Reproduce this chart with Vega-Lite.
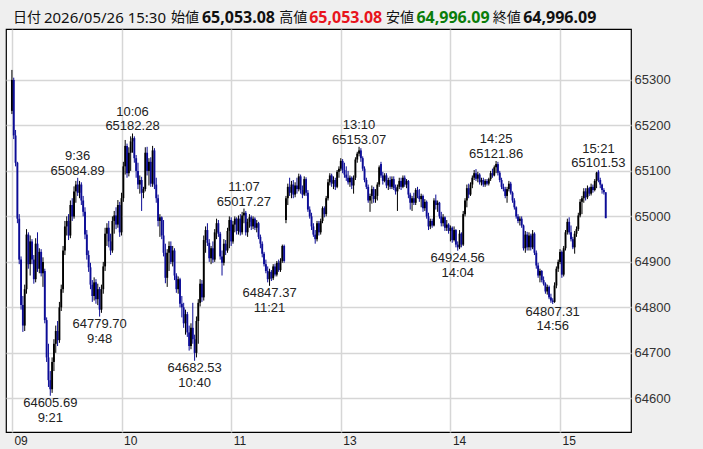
{
"$schema": "https://vega.github.io/schema/vega-lite/v6.json",
"width": 625, "height": 403,
"autosize": "none",
"padding": {"left": 6, "top": 29, "right": 72, "bottom": 17},
"background": "#efefef",
"config": {"view": {"fill": "#ffffff", "stroke": "#000000", "strokeWidth": 1.2}, "font": "Noto Sans"},
"datasets": {
"k": [
{"i":0,"o":65232,"h":65322,"l":65225,"c":65300},
{"i":1,"o":65300,"h":65305,"l":65170,"c":65178},
{"i":2,"o":65178,"h":65190,"l":65110,"c":65118},
{"i":3,"o":65118,"h":65120,"l":64985,"c":64995},
{"i":4,"o":64995,"h":65005,"l":64895,"c":64905},
{"i":5,"o":64905,"h":64912,"l":64795,"c":64805},
{"i":6,"o":64805,"h":64825,"l":64746,"c":64760},
{"i":7,"o":64760,"h":64850,"l":64748,"c":64840},
{"i":8,"o":64840,"h":64972,"l":64830,"c":64960},
{"i":9,"o":64960,"h":64965,"l":64885,"c":64895},
{"i":10,"o":64895,"h":64958,"l":64870,"c":64945},
{"i":11,"o":64945,"h":64950,"l":64895,"c":64905},
{"i":12,"o":64905,"h":64915,"l":64852,"c":64862},
{"i":13,"o":64862,"h":64952,"l":64855,"c":64940},
{"i":14,"o":64940,"h":64965,"l":64878,"c":64885},
{"i":15,"o":64885,"h":64930,"l":64875,"c":64922},
{"i":16,"o":64922,"h":64928,"l":64868,"c":64875},
{"i":17,"o":64875,"h":64910,"l":64845,"c":64900},
{"i":18,"o":64880,"h":64885,"l":64765,"c":64772},
{"i":19,"o":64772,"h":64778,"l":64680,"c":64690},
{"i":20,"o":64690,"h":64720,"l":64625,"c":64640},
{"i":21,"o":64640,"h":64660,"l":64605.69,"c":64620},
{"i":22,"o":64620,"h":64690,"l":64612,"c":64680},
{"i":23,"o":64680,"h":64730,"l":64660,"c":64720},
{"i":24,"o":64720,"h":64760,"l":64700,"c":64748},
{"i":25,"o":64748,"h":64770,"l":64715,"c":64728},
{"i":26,"o":64728,"h":64812,"l":64722,"c":64800},
{"i":27,"o":64800,"h":64850,"l":64792,"c":64840},
{"i":28,"o":64840,"h":64935,"l":64832,"c":64925},
{"i":29,"o":64925,"h":64990,"l":64915,"c":64978},
{"i":30,"o":64978,"h":65000,"l":64958,"c":64990},
{"i":31,"o":64990,"h":65005,"l":64948,"c":64958},
{"i":32,"o":64958,"h":65035,"l":64952,"c":65025},
{"i":33,"o":65025,"h":65040,"l":64990,"c":65000},
{"i":34,"o":65000,"h":65066,"l":64995,"c":65055},
{"i":35,"o":65055,"h":65078,"l":65030,"c":65070},
{"i":36,"o":65070,"h":65084.89,"l":65045,"c":65052},
{"i":37,"o":65052,"h":65078,"l":65040,"c":65070},
{"i":38,"o":65070,"h":65075,"l":65025,"c":65035},
{"i":39,"o":65035,"h":65045,"l":65000,"c":65010},
{"i":40,"o":65010,"h":65020,"l":64950,"c":64960},
{"i":41,"o":64960,"h":64970,"l":64905,"c":64915},
{"i":42,"o":64915,"h":64925,"l":64878,"c":64888},
{"i":43,"o":64888,"h":64898,"l":64840,"c":64850},
{"i":44,"o":64850,"h":64860,"l":64812,"c":64825},
{"i":45,"o":64825,"h":64866,"l":64815,"c":64855},
{"i":46,"o":64855,"h":64862,"l":64808,"c":64818},
{"i":47,"o":64818,"h":64852,"l":64805,"c":64840},
{"i":48,"o":64840,"h":64845,"l":64779.7,"c":64795},
{"i":49,"o":64795,"h":64850,"l":64788,"c":64840},
{"i":50,"o":64840,"h":64900,"l":64830,"c":64890},
{"i":51,"o":64890,"h":64975,"l":64880,"c":64962},
{"i":52,"o":64962,"h":64985,"l":64935,"c":64975},
{"i":53,"o":64975,"h":64990,"l":64932,"c":64945},
{"i":54,"o":64945,"h":64962,"l":64915,"c":64925},
{"i":55,"o":64925,"h":65000,"l":64920,"c":64990},
{"i":56,"o":64990,"h":65012,"l":64962,"c":65002},
{"i":57,"o":65002,"h":65020,"l":64972,"c":64982},
{"i":58,"o":64982,"h":65036,"l":64975,"c":65025},
{"i":59,"o":65025,"h":65032,"l":64955,"c":64965},
{"i":60,"o":64965,"h":65052,"l":64958,"c":65040},
{"i":61,"o":65040,"h":65120,"l":65032,"c":65110},
{"i":62,"o":65110,"h":65168,"l":65092,"c":65155},
{"i":63,"o":65155,"h":65160,"l":65085,"c":65095},
{"i":64,"o":65095,"h":65152,"l":65088,"c":65140},
{"i":65,"o":65140,"h":65176,"l":65100,"c":65165},
{"i":66,"o":65165,"h":65182.28,"l":65140,"c":65172},
{"i":67,"o":65172,"h":65176,"l":65118,"c":65128},
{"i":68,"o":65128,"h":65135,"l":65085,"c":65100},
{"i":69,"o":65100,"h":65118,"l":65060,"c":65070},
{"i":70,"o":65070,"h":65090,"l":65050,"c":65080},
{"i":71,"o":65080,"h":65087,"l":65012,"c":65052},
{"i":72,"o":65052,"h":65065,"l":65040,"c":65060},
{"i":73,"o":65060,"h":65152,"l":65055,"c":65140},
{"i":74,"o":65140,"h":65153,"l":65090,"c":65100},
{"i":75,"o":65100,"h":65128,"l":65068,"c":65120},
{"i":76,"o":65120,"h":65130,"l":65065,"c":65072},
{"i":77,"o":65072,"h":65155,"l":65065,"c":65145},
{"i":78,"o":65145,"h":65150,"l":65060,"c":65070},
{"i":79,"o":65070,"h":65085,"l":65030,"c":65040},
{"i":80,"o":65040,"h":65048,"l":64978,"c":64990},
{"i":81,"o":64990,"h":65005,"l":64955,"c":64998},
{"i":82,"o":64998,"h":65000,"l":64950,"c":64958},
{"i":83,"o":64958,"h":64992,"l":64912,"c":64920},
{"i":84,"o":64920,"h":64940,"l":64853,"c":64865},
{"i":85,"o":64865,"h":64928,"l":64845,"c":64920},
{"i":86,"o":64920,"h":64945,"l":64880,"c":64935},
{"i":87,"o":64935,"h":64945,"l":64895,"c":64900},
{"i":88,"o":64900,"h":64935,"l":64890,"c":64925},
{"i":89,"o":64925,"h":64930,"l":64860,"c":64870},
{"i":90,"o":64870,"h":64875,"l":64832,"c":64840},
{"i":91,"o":64840,"h":64868,"l":64830,"c":64862},
{"i":92,"o":64862,"h":64865,"l":64800,"c":64808},
{"i":93,"o":64808,"h":64825,"l":64778,"c":64800},
{"i":94,"o":64800,"h":64810,"l":64755,"c":64765},
{"i":95,"o":64765,"h":64795,"l":64740,"c":64785},
{"i":96,"o":64785,"h":64790,"l":64735,"c":64745},
{"i":97,"o":64745,"h":64760,"l":64705,"c":64715},
{"i":98,"o":64715,"h":64765,"l":64708,"c":64755},
{"i":99,"o":64755,"h":64810,"l":64720,"c":64730},
{"i":100,"o":64730,"h":64740,"l":64682.53,"c":64700},
{"i":101,"o":64700,"h":64780,"l":64690,"c":64770},
{"i":102,"o":64770,"h":64818,"l":64720,"c":64810},
{"i":103,"o":64810,"h":64862,"l":64802,"c":64852},
{"i":104,"o":64852,"h":64860,"l":64812,"c":64822},
{"i":105,"o":64822,"h":64958,"l":64815,"c":64948},
{"i":106,"o":64948,"h":64978,"l":64920,"c":64970},
{"i":107,"o":64970,"h":64985,"l":64935,"c":64942},
{"i":108,"o":64942,"h":64950,"l":64900,"c":64908},
{"i":109,"o":64908,"h":64935,"l":64895,"c":64930},
{"i":110,"o":64930,"h":64945,"l":64898,"c":64905},
{"i":111,"o":64905,"h":64972,"l":64900,"c":64965},
{"i":112,"o":64965,"h":64995,"l":64950,"c":64985},
{"i":113,"o":64985,"h":64992,"l":64955,"c":64962},
{"i":114,"o":64962,"h":64966,"l":64905,"c":64912},
{"i":115,"o":64912,"h":64925,"l":64870,"c":64898},
{"i":116,"o":64898,"h":64950,"l":64892,"c":64940},
{"i":117,"o":64940,"h":64948,"l":64915,"c":64925},
{"i":118,"o":64925,"h":64975,"l":64920,"c":64968},
{"i":119,"o":64968,"h":65000,"l":64930,"c":64992},
{"i":120,"o":64992,"h":64998,"l":64935,"c":64945},
{"i":121,"o":64945,"h":64990,"l":64940,"c":64982},
{"i":122,"o":64982,"h":65000,"l":64965,"c":64995},
{"i":123,"o":64995,"h":64998,"l":64960,"c":64968},
{"i":124,"o":64968,"h":65002,"l":64960,"c":64995},
{"i":125,"o":64995,"h":65005,"l":64958,"c":64965},
{"i":126,"o":64965,"h":65010,"l":64960,"c":65002},
{"i":127,"o":65002,"h":65017.27,"l":64985,"c":65008},
{"i":128,"o":65008,"h":65012,"l":64958,"c":64965},
{"i":129,"o":64965,"h":64995,"l":64955,"c":64988},
{"i":130,"o":64988,"h":65005,"l":64975,"c":64998},
{"i":131,"o":64998,"h":65002,"l":64970,"c":64978},
{"i":132,"o":64978,"h":65000,"l":64972,"c":64995},
{"i":133,"o":64995,"h":64998,"l":64970,"c":64975},
{"i":134,"o":64975,"h":64992,"l":64965,"c":64985},
{"i":135,"o":64985,"h":64988,"l":64950,"c":64955},
{"i":136,"o":64955,"h":64960,"l":64930,"c":64940},
{"i":137,"o":64940,"h":64945,"l":64910,"c":64918},
{"i":138,"o":64918,"h":64922,"l":64890,"c":64895},
{"i":139,"o":64895,"h":64905,"l":64875,"c":64880},
{"i":140,"o":64880,"h":64890,"l":64855,"c":64862},
{"i":141,"o":64862,"h":64885,"l":64847.37,"c":64878},
{"i":142,"o":64878,"h":64882,"l":64858,"c":64864},
{"i":143,"o":64864,"h":64895,"l":64860,"c":64890},
{"i":144,"o":64890,"h":64896,"l":64868,"c":64872},
{"i":145,"o":64872,"h":64902,"l":64868,"c":64898},
{"i":146,"o":64898,"h":64905,"l":64878,"c":64882},
{"i":147,"o":64882,"h":64908,"l":64878,"c":64902},
{"i":148,"o":64902,"h":64938,"l":64898,"c":64935},
{"i":149,"o":64935,"h":64938,"l":64898,"c":64902},
{"i":150,"o":64992,"h":65045,"l":64985,"c":65040},
{"i":151,"o":65040,"h":65072,"l":65025,"c":65065},
{"i":152,"o":65065,"h":65085,"l":65045,"c":65052},
{"i":153,"o":65052,"h":65078,"l":65040,"c":65070},
{"i":154,"o":65070,"h":65080,"l":65040,"c":65048},
{"i":155,"o":65048,"h":65075,"l":65042,"c":65068},
{"i":156,"o":65068,"h":65085,"l":65050,"c":65060},
{"i":157,"o":65060,"h":65094,"l":65055,"c":65088},
{"i":158,"o":65088,"h":65092,"l":65050,"c":65058},
{"i":159,"o":65058,"h":65068,"l":65040,"c":65048},
{"i":160,"o":65048,"h":65088,"l":65045,"c":65082},
{"i":161,"o":65082,"h":65086,"l":65045,"c":65052},
{"i":162,"o":65052,"h":65058,"l":65010,"c":65015},
{"i":163,"o":65015,"h":65022,"l":64995,"c":65000},
{"i":164,"o":65000,"h":65008,"l":64970,"c":64978},
{"i":165,"o":64978,"h":64985,"l":64955,"c":64960},
{"i":166,"o":64960,"h":64970,"l":64940,"c":64950},
{"i":167,"o":64950,"h":64990,"l":64945,"c":64985},
{"i":168,"o":64985,"h":64990,"l":64958,"c":64965},
{"i":169,"o":64965,"h":64995,"l":64960,"c":64990},
{"i":170,"o":64990,"h":65022,"l":64985,"c":65018},
{"i":171,"o":65018,"h":65022,"l":64998,"c":65005},
{"i":172,"o":65005,"h":65045,"l":65000,"c":65040},
{"i":173,"o":65040,"h":65082,"l":65035,"c":65075},
{"i":174,"o":65075,"h":65095,"l":65068,"c":65090},
{"i":175,"o":65090,"h":65094,"l":65065,"c":65072},
{"i":176,"o":65072,"h":65088,"l":65060,"c":65080},
{"i":177,"o":65080,"h":65085,"l":65058,"c":65065},
{"i":178,"o":65065,"h":65102,"l":65062,"c":65098},
{"i":179,"o":65098,"h":65110,"l":65085,"c":65105},
{"i":180,"o":65105,"h":65128,"l":65100,"c":65122},
{"i":181,"o":65122,"h":65126,"l":65095,"c":65102},
{"i":182,"o":65102,"h":65118,"l":65085,"c":65092},
{"i":183,"o":65092,"h":65110,"l":65078,"c":65085},
{"i":184,"o":65085,"h":65100,"l":65070,"c":65075},
{"i":185,"o":65075,"h":65090,"l":65065,"c":65085},
{"i":186,"o":65085,"h":65088,"l":65060,"c":65068},
{"i":187,"o":65068,"h":65090,"l":65050,"c":65085},
{"i":188,"o":65085,"h":65130,"l":65080,"c":65125},
{"i":189,"o":65125,"h":65142,"l":65118,"c":65138},
{"i":190,"o":65138,"h":65153.07,"l":65132,"c":65145},
{"i":191,"o":65145,"h":65150,"l":65120,"c":65128},
{"i":192,"o":65128,"h":65132,"l":65100,"c":65105},
{"i":193,"o":65105,"h":65110,"l":65075,"c":65080},
{"i":194,"o":65080,"h":65085,"l":65060,"c":65065},
{"i":195,"o":65065,"h":65070,"l":65030,"c":65035},
{"i":196,"o":65035,"h":65050,"l":65010,"c":65045},
{"i":197,"o":65045,"h":65068,"l":65028,"c":65060},
{"i":198,"o":65060,"h":65065,"l":65030,"c":65038},
{"i":199,"o":65038,"h":65060,"l":65030,"c":65045},
{"i":200,"o":65045,"h":65075,"l":65035,"c":65070},
{"i":201,"o":65070,"h":65112,"l":65065,"c":65108},
{"i":202,"o":65115,"h":65120,"l":65085,"c":65090},
{"i":203,"o":65090,"h":65098,"l":65070,"c":65078},
{"i":204,"o":65078,"h":65095,"l":65075,"c":65090},
{"i":205,"o":65090,"h":65095,"l":65062,"c":65068},
{"i":206,"o":65068,"h":65085,"l":65058,"c":65080},
{"i":207,"o":65080,"h":65088,"l":65060,"c":65065},
{"i":208,"o":65065,"h":65088,"l":65060,"c":65082},
{"i":209,"o":65082,"h":65088,"l":65058,"c":65062},
{"i":210,"o":65062,"h":65070,"l":65048,"c":65055},
{"i":211,"o":65055,"h":65070,"l":65012,"c":65065},
{"i":212,"o":65065,"h":65085,"l":65060,"c":65078},
{"i":213,"o":65078,"h":65085,"l":65058,"c":65065},
{"i":214,"o":65065,"h":65090,"l":65062,"c":65085},
{"i":215,"o":65085,"h":65090,"l":65065,"c":65070},
{"i":216,"o":65070,"h":65082,"l":65062,"c":65078},
{"i":217,"o":65078,"h":65080,"l":65040,"c":65048},
{"i":218,"o":65048,"h":65052,"l":65015,"c":65030},
{"i":219,"o":65030,"h":65045,"l":65012,"c":65040},
{"i":220,"o":65040,"h":65052,"l":65025,"c":65030},
{"i":221,"o":65030,"h":65062,"l":65025,"c":65058},
{"i":222,"o":65058,"h":65065,"l":65040,"c":65045},
{"i":223,"o":65045,"h":65060,"l":65032,"c":65038},
{"i":224,"o":65038,"h":65050,"l":65020,"c":65045},
{"i":225,"o":65045,"h":65048,"l":65010,"c":65018},
{"i":226,"o":65018,"h":65038,"l":65012,"c":65032},
{"i":227,"o":65032,"h":65035,"l":64995,"c":65000},
{"i":228,"o":65000,"h":65008,"l":64970,"c":64978},
{"i":229,"o":64978,"h":64995,"l":64972,"c":64990},
{"i":230,"o":64990,"h":64995,"l":64975,"c":64980},
{"i":231,"o":64980,"h":65040,"l":64978,"c":65035},
{"i":232,"o":65035,"h":65048,"l":65015,"c":65025},
{"i":233,"o":65025,"h":65035,"l":65010,"c":65030},
{"i":234,"o":65030,"h":65032,"l":64995,"c":65000},
{"i":235,"o":65000,"h":65010,"l":64978,"c":64985},
{"i":236,"o":64985,"h":65005,"l":64978,"c":64998},
{"i":237,"o":64998,"h":65000,"l":64968,"c":64975},
{"i":238,"o":64975,"h":64992,"l":64968,"c":64982},
{"i":239,"o":64982,"h":64985,"l":64962,"c":64968},
{"i":240,"o":64968,"h":64980,"l":64945,"c":64975},
{"i":241,"o":64975,"h":64978,"l":64942,"c":64948},
{"i":242,"o":64948,"h":64978,"l":64945,"c":64970},
{"i":243,"o":64970,"h":64972,"l":64932,"c":64938},
{"i":244,"o":64938,"h":64945,"l":64924.56,"c":64932},
{"i":245,"o":64932,"h":64970,"l":64928,"c":64962},
{"i":246,"o":64962,"h":64965,"l":64932,"c":64938},
{"i":247,"o":64938,"h":65012,"l":64935,"c":65005},
{"i":248,"o":65005,"h":65040,"l":65000,"c":65035},
{"i":249,"o":65035,"h":65070,"l":65020,"c":65062},
{"i":250,"o":65062,"h":65072,"l":65040,"c":65048},
{"i":251,"o":65048,"h":65075,"l":65045,"c":65070},
{"i":252,"o":65070,"h":65090,"l":65062,"c":65085},
{"i":253,"o":65085,"h":65102,"l":65080,"c":65095},
{"i":254,"o":65095,"h":65104,"l":65078,"c":65083},
{"i":255,"o":65083,"h":65098,"l":65075,"c":65092},
{"i":256,"o":65092,"h":65095,"l":65070,"c":65075},
{"i":257,"o":65075,"h":65085,"l":65068,"c":65080},
{"i":258,"o":65080,"h":65085,"l":65065,"c":65070},
{"i":259,"o":65070,"h":65082,"l":65065,"c":65078},
{"i":260,"o":65078,"h":65082,"l":65068,"c":65072},
{"i":261,"o":65072,"h":65085,"l":65068,"c":65082},
{"i":262,"o":65082,"h":65100,"l":65078,"c":65095},
{"i":263,"o":65095,"h":65105,"l":65085,"c":65090},
{"i":264,"o":65090,"h":65112,"l":65088,"c":65108},
{"i":265,"o":65108,"h":65121.86,"l":65095,"c":65115},
{"i":266,"o":65115,"h":65120,"l":65090,"c":65096},
{"i":267,"o":65096,"h":65100,"l":65075,"c":65080},
{"i":268,"o":65080,"h":65085,"l":65060,"c":65065},
{"i":269,"o":65065,"h":65072,"l":65055,"c":65060},
{"i":270,"o":65060,"h":65065,"l":65040,"c":65045},
{"i":271,"o":65045,"h":65065,"l":65030,"c":65060},
{"i":272,"o":65060,"h":65078,"l":65055,"c":65072},
{"i":273,"o":65072,"h":65076,"l":65048,"c":65052},
{"i":274,"o":65052,"h":65055,"l":65030,"c":65035},
{"i":275,"o":65035,"h":65040,"l":65015,"c":65020},
{"i":276,"o":65020,"h":65022,"l":64995,"c":65000},
{"i":277,"o":65000,"h":65005,"l":64985,"c":64990},
{"i":278,"o":64990,"h":65000,"l":64980,"c":64995},
{"i":279,"o":64995,"h":65000,"l":64975,"c":64980},
{"i":280,"o":64980,"h":64982,"l":64925,"c":64930},
{"i":281,"o":64930,"h":64968,"l":64920,"c":64960},
{"i":282,"o":64960,"h":64966,"l":64925,"c":64932},
{"i":283,"o":64932,"h":64965,"l":64925,"c":64958},
{"i":284,"o":64958,"h":64962,"l":64925,"c":64932},
{"i":285,"o":64932,"h":64970,"l":64928,"c":64962},
{"i":286,"o":64962,"h":64965,"l":64915,"c":64920},
{"i":287,"o":64920,"h":64925,"l":64885,"c":64892},
{"i":288,"o":64892,"h":64898,"l":64865,"c":64870},
{"i":289,"o":64870,"h":64885,"l":64855,"c":64880},
{"i":290,"o":64880,"h":64882,"l":64855,"c":64860},
{"i":291,"o":64860,"h":64868,"l":64848,"c":64852},
{"i":292,"o":64852,"h":64855,"l":64830,"c":64835},
{"i":293,"o":64835,"h":64850,"l":64828,"c":64845},
{"i":294,"o":64845,"h":64848,"l":64818,"c":64822},
{"i":295,"o":64822,"h":64830,"l":64810,"c":64815},
{"i":296,"o":64815,"h":64820,"l":64807.31,"c":64812},
{"i":297,"o":64812,"h":64855,"l":64810,"c":64848},
{"i":298,"o":64848,"h":64890,"l":64842,"c":64885},
{"i":299,"o":64885,"h":64905,"l":64878,"c":64900},
{"i":300,"o":64900,"h":64928,"l":64895,"c":64922},
{"i":301,"o":64922,"h":64925,"l":64865,"c":64872},
{"i":302,"o":64872,"h":64935,"l":64868,"c":64930},
{"i":303,"o":64930,"h":64970,"l":64925,"c":64965},
{"i":304,"o":64965,"h":64995,"l":64960,"c":64988},
{"i":305,"o":64988,"h":64998,"l":64960,"c":64965},
{"i":306,"o":64965,"h":64980,"l":64945,"c":64950},
{"i":307,"o":64950,"h":64955,"l":64928,"c":64932},
{"i":308,"o":64932,"h":64968,"l":64918,"c":64962},
{"i":309,"o":64962,"h":64978,"l":64955,"c":64972},
{"i":310,"o":64972,"h":65008,"l":64968,"c":65002},
{"i":311,"o":65002,"h":65038,"l":64998,"c":65032},
{"i":312,"o":65032,"h":65045,"l":65005,"c":65040},
{"i":313,"o":65040,"h":65062,"l":65030,"c":65055},
{"i":314,"o":65055,"h":65062,"l":65035,"c":65042},
{"i":315,"o":65042,"h":65068,"l":65038,"c":65062},
{"i":316,"o":65062,"h":65065,"l":65045,"c":65050},
{"i":317,"o":65050,"h":65072,"l":65046,"c":65065},
{"i":318,"o":65065,"h":65070,"l":65052,"c":65058},
{"i":319,"o":65058,"h":65082,"l":65055,"c":65078},
{"i":320,"o":65078,"h":65098,"l":65062,"c":65096},
{"i":321,"o":65098,"h":65101.53,"l":65075,"c":65080},
{"i":322,"o":65080,"h":65085,"l":65062,"c":65070},
{"i":323,"o":65070,"h":65072,"l":65050,"c":65058},
{"i":324,"o":65058,"h":65062,"l":65048,"c":65053.08},
{"i":325,"o":65053.08,"h":65053.08,"l":64996.09,"c":64996.09}
],
"ann": [
{"i":36,"p":65084.89,"k":"h","lab":"9:36\n65084.89"},
{"i":66,"p":65182.28,"k":"h","lab":"10:06\n65182.28"},
{"i":127,"p":65017.27,"k":"h","lab":"11:07\n65017.27"},
{"i":190,"p":65153.07,"k":"h","lab":"13:10\n65153.07"},
{"i":265,"p":65121.86,"k":"h","lab":"14:25\n65121.86"},
{"i":321,"p":65101.53,"k":"h","lab":"15:21\n65101.53"},
{"i":21,"p":64605.69,"k":"l","lab":"64605.69\n9:21"},
{"i":48,"p":64779.70,"k":"l","lab":"64779.70\n9:48"},
{"i":100,"p":64682.53,"k":"l","lab":"64682.53\n10:40"},
{"i":141,"p":64847.37,"k":"l","lab":"64847.37\n11:21"},
{"i":244,"p":64924.56,"k":"l","lab":"64924.56\n14:04"},
{"i":296,"p":64807.31,"k":"l","lab":"64807.31\n14:56"}
],
"hdr": [
{"date":"2026/05/26 15:30","open":"65,053.08","high":"65,053.08","low":"64,996.09","close":"64,996.09"}
]
},
"layer": [
{"data": {"name": "k"},
 "mark": {"type": "rule", "strokeWidth": 1},
 "encoding": {
  "x": {"field": "i", "type": "quantitative",
        "scale": {"domain": [-0.5, 336.1], "nice": false, "zero": false},
        "axis": {"values": [0,60,120,180,240,300],
                 "labelExpr": "datum.value==0?'09':datum.value==60?'10':datum.value==120?'11':datum.value==180?'13':datum.value==240?'14':'15'",
                 "title": null, "ticks": false, "domain": false, "labelAlign": "left", "labelFlush": false,
                 "labelOffset": 2, "labelPadding": 3, "labelFontSize": 12, "labelColor": "#222222", "labelFont": "Liberation Sans",
                 "gridColor": "#d6d6d6", "gridWidth": 1.5}},
  "y": {"field": "l", "type": "quantitative",
        "scale": {"domain": [64526, 65412], "nice": false, "zero": false},
        "axis": {"orient": "right", "values": [64600,64700,64800,64900,65000,65100,65200,65300], "format": "d",
                 "title": null, "ticks": false, "domain": false, "labelAlign": "left", "labelPadding": 3,
                 "labelFontSize": 13, "labelColor": "#333333", "labelFont": "Liberation Sans",
                 "gridColor": "#d6d6d6", "gridWidth": 1.5}},
  "y2": {"field": "h"},
  "color": {"condition": {"test": "datum.c < datum.o", "value": "#0c0c96"}, "value": "#000000"}
 }},
{"data": {"name": "k"},
 "mark": {"type": "bar", "size": 1.9},
 "encoding": {
  "x": {"field": "i", "type": "quantitative"},
  "y": {"field": "o", "type": "quantitative"},
  "y2": {"field": "c"},
  "color": {"condition": {"test": "datum.c < datum.o", "value": "#0c0c96"}, "value": "#000000"}
 }},
{"data": {"name": "ann"},
 "transform": [{"filter": "datum.k == 'h'"}],
 "mark": {"type": "text", "baseline": "bottom", "align": "center", "dy": -14.6, "fontSize": 13, "lineHeight": 14.6, "lineBreak": "\n", "color": "#222222", "font": "Liberation Sans"},
 "encoding": {"x": {"field": "i", "type": "quantitative"}, "y": {"field": "p", "type": "quantitative"}, "text": {"field": "lab"}}},
{"data": {"name": "ann"},
 "transform": [{"filter": "datum.k == 'l'"}],
 "mark": {"type": "text", "baseline": "top", "align": "center", "dy": 1.5, "fontSize": 13, "lineHeight": 14.6, "lineBreak": "\n", "color": "#222222", "font": "Liberation Sans"},
 "encoding": {"x": {"field": "i", "type": "quantitative"}, "y": {"field": "p", "type": "quantitative"}, "text": {"field": "lab"}}},
{"data": {"name": "hdr"},
 "mark": {"type": "text", "text": "日付", "align": "left", "baseline": "middle", "fontSize": 14, "color": "#111111", "font": "Noto Sans CJK JP"},
 "encoding": {"x": {"datum": 0.58, "type": "quantitative"}, "y": {"datum": 65436, "type": "quantitative"}}},
{"data": {"name": "hdr"},
 "mark": {"type": "text", "align": "left", "baseline": "middle", "fontSize": 15, "color": "#111111", "font": "Noto Sans"},
 "encoding": {"x": {"datum": 17.54, "type": "quantitative"}, "y": {"datum": 65436, "type": "quantitative"}, "text": {"field": "date"}}},
{"data": {"name": "hdr"},
 "mark": {"type": "text", "text": "始値", "align": "left", "baseline": "middle", "fontSize": 14, "color": "#111111", "font": "Noto Sans CJK JP"},
 "encoding": {"x": {"datum": 87.02, "type": "quantitative"}, "y": {"datum": 65436, "type": "quantitative"}}},
{"data": {"name": "hdr"},
 "mark": {"type": "text", "align": "left", "baseline": "middle", "fontSize": 16, "fontWeight": "bold", "color": "#111111", "font": "Noto Sans"},
 "encoding": {"x": {"datum": 103.98, "type": "quantitative"}, "y": {"datum": 65436, "type": "quantitative"}, "text": {"field": "open"}}},
{"data": {"name": "hdr"},
 "mark": {"type": "text", "text": "高値", "align": "left", "baseline": "middle", "fontSize": 14, "color": "#111111", "font": "Noto Sans CJK JP"},
 "encoding": {"x": {"datum": 146.26, "type": "quantitative"}, "y": {"datum": 65436, "type": "quantitative"}}},
{"data": {"name": "hdr"},
 "mark": {"type": "text", "align": "left", "baseline": "middle", "fontSize": 16, "fontWeight": "bold", "color": "#e8141c", "font": "Noto Sans"},
 "encoding": {"x": {"datum": 162.68, "type": "quantitative"}, "y": {"datum": 65436, "type": "quantitative"}, "text": {"field": "high"}}},
{"data": {"name": "hdr"},
 "mark": {"type": "text", "text": "安値", "align": "left", "baseline": "middle", "fontSize": 14, "color": "#111111", "font": "Noto Sans CJK JP"},
 "encoding": {"x": {"datum": 204.69, "type": "quantitative"}, "y": {"datum": 65436, "type": "quantitative"}}},
{"data": {"name": "hdr"},
 "mark": {"type": "text", "align": "left", "baseline": "middle", "fontSize": 16, "fontWeight": "bold", "color": "#0a7d0a", "font": "Noto Sans"},
 "encoding": {"x": {"datum": 221.39, "type": "quantitative"}, "y": {"datum": 65436, "type": "quantitative"}, "text": {"field": "low"}}},
{"data": {"name": "hdr"},
 "mark": {"type": "text", "text": "終値", "align": "left", "baseline": "middle", "fontSize": 14, "color": "#111111", "font": "Noto Sans CJK JP"},
 "encoding": {"x": {"datum": 263.13, "type": "quantitative"}, "y": {"datum": 65436, "type": "quantitative"}}},
{"data": {"name": "hdr"},
 "mark": {"type": "text", "align": "left", "baseline": "middle", "fontSize": 16, "fontWeight": "bold", "color": "#111111", "font": "Noto Sans"},
 "encoding": {"x": {"datum": 279.82, "type": "quantitative"}, "y": {"datum": 65436, "type": "quantitative"}, "text": {"field": "close"}}}
]
}
